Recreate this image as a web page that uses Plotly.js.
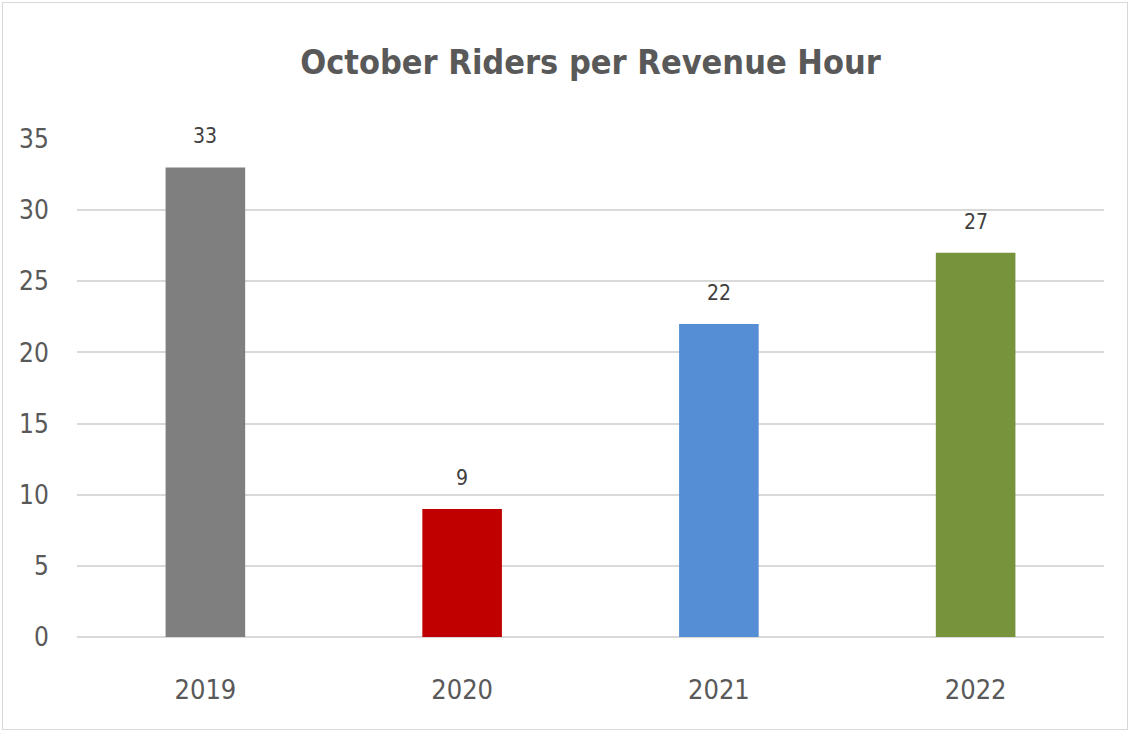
<!DOCTYPE html>
<html>
<head>
<meta charset="utf-8">
<script src="https://cdn.plot.ly/plotly-3.0.1.min.js"></script>
<style>
html,body{margin:0;padding:0;background:#fff;}
#frame{position:absolute;left:2px;top:2px;width:1126px;height:728px;border:1px solid #d9d9d9;box-sizing:border-box;}
#chart{position:absolute;left:0;top:0;width:1132px;height:732px;}
</style>
</head>
<body>
<div id="frame"></div>
<div id="chart"></div>
<script>
const years = ['2019', '2020', '2021', '2022'];
const riders = [33, 9, 22, 27];
const barColors = ['#7f7f7f', '#c00000', '#558ed5', '#77933c'];
const yTicks = [0, 5, 10, 15, 20, 25, 30, 35];

const FONT = '"DejaVu Sans Condensed", "Liberation Sans Narrow", "Liberation Sans", sans-serif';

const trace = {
  type: 'bar',
  x: years,
  y: riders,
  marker: { color: barColors },
  width: 0.31,
  cliponaxis: false
};

const annotations = years.map((yr, i) => ({
  x: i, y: riders[i], xref: 'x', yref: 'y',
  text: String(riders[i]), showarrow: false,
  yanchor: 'bottom', yshift: 17,
  font: { family: FONT, size: 21, color: '#404040' }
}));

const layout = {
  width: 1132, height: 732,
  paper_bgcolor: 'rgba(0,0,0,0)', plot_bgcolor: 'rgba(0,0,0,0)',
  margin: { l: 77, r: 28, t: 139, b: 95 },
  title: {
    text: '<b>October Riders per Revenue Hour</b>',
    x: 0.5, xref: 'paper', y: 1 - 62 / 732, yref: 'container',
    xanchor: 'center', yanchor: 'middle',
    font: { family: FONT, size: 34, color: '#595959' }
  },
  showlegend: false,
  xaxis: {
    type: 'category',
    categoryorder: 'array', categoryarray: years,
    range: [-0.5, years.length - 0.5],
    tickfont: { family: FONT, size: 27, color: '#595959' },
    showgrid: false, zeroline: false, showline: false,
    ticks: 'outside', ticklen: 29, tickcolor: 'rgba(0,0,0,0)'
  },
  yaxis: {
    range: [0, 35],
    tickvals: yTicks,
    tickfont: { family: FONT, size: 26, color: '#595959' },
    showgrid: true, gridcolor: '#d9d9d9', gridwidth: 2,
    zeroline: true, zerolinecolor: '#d9d9d9', zerolinewidth: 2,
    showline: false, ticks: 'outside', ticklen: 22, tickcolor: 'rgba(0,0,0,0)'
  },
  annotations: annotations
};

Plotly.newPlot('chart', [trace], layout, { displayModeBar: false, staticPlot: true });
</script>
</body>
</html>
